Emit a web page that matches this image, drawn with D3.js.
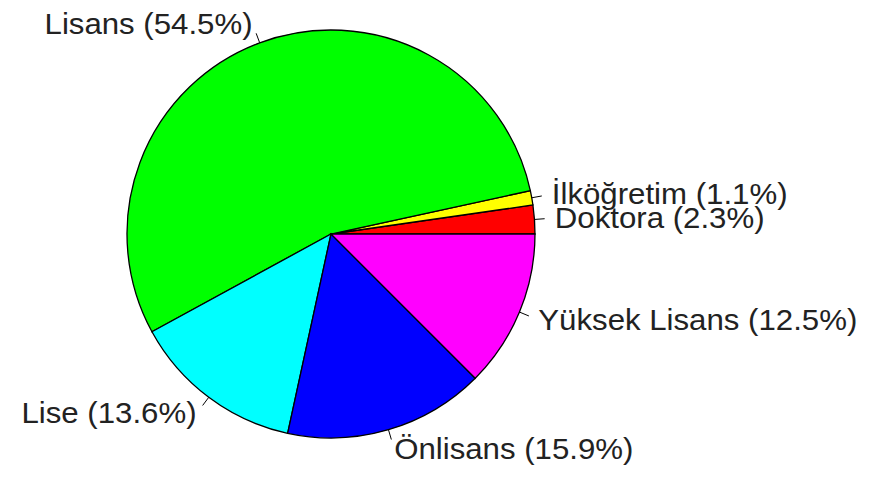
<!DOCTYPE html>
<html>
<head>
<meta charset="utf-8">
<script src="https://cdn.jsdelivr.net/npm/d3@7"></script>
<style>
html,body{margin:0;padding:0;background:#fff;}
svg{display:block;}
</style>
</head>
<body>
<svg id="chart" width="869" height="479"></svg>
<script>
const categories = ["Doktora", "İlköğretim", "Lisans", "Lise", "Önlisans", "Yüksek Lisans"];
const counts = [2, 1, 48, 12, 14, 11];
const percentLabels = ["2.3%", "1.1%", "54.5%", "13.6%", "15.9%", "12.5%"];
const colors = ["#FF0000", "#FFFF00", "#00FF00", "#00FFFF", "#0000FF", "#FF00FF"];

const svg = d3.select("#chart");
const cx = 331, cy = 234, r = 204;
const g = svg.append("g").attr("transform", `translate(${cx},${cy})`);

const total = d3.sum(counts);
// R-style pie: start at 3 o'clock, counter-clockwise
const angle = d3.scaleLinear().domain([0, total]).range([0, 2 * Math.PI]);
let cum = 0;
const slices = counts.map((v, i) => {
  const a0 = angle(cum); cum += v; const a1 = angle(cum);
  return {i, a0, a1, mid: (a0 + a1) / 2};
});
const toD3 = a => Math.PI / 2 - a;
const arc = d3.arc().innerRadius(0).outerRadius(r);

g.selectAll("path.slice").data(slices).enter().append("path")
  .attr("class", "slice")
  .attr("d", d => arc({startAngle: toD3(d.a1), endAngle: toD3(d.a0)}))
  .attr("fill", d => colors[d.i])
  .attr("stroke", "#000").attr("stroke-width", 1.3);

g.selectAll("line.tick").data(slices).enter().append("line")
  .attr("x1", d => Math.cos(d.mid) * r)
  .attr("y1", d => -Math.sin(d.mid) * r)
  .attr("x2", d => Math.cos(d.mid) * r * 1.05)
  .attr("y2", d => -Math.sin(d.mid) * r * 1.05)
  .attr("stroke", "#000").attr("stroke-width", 1);

g.selectAll("text.lab").data(slices).enter().append("text")
  .attr("transform", d => `translate(${Math.cos(d.mid) * r * 1.1},${-Math.sin(d.mid) * r * 1.1 - 1}) scale(1.04,1)`)
  .attr("dy", "0.36em")
  .attr("text-anchor", d => Math.cos(d.mid) > 0 ? "start" : "end")
  .attr("font-family", "'Liberation Sans', Arial, sans-serif")
  .attr("font-size", 30)
  .attr("fill", "#222")
  .text(d => `${categories[d.i]} (${percentLabels[d.i]})`);
</script>
</body>
</html>
